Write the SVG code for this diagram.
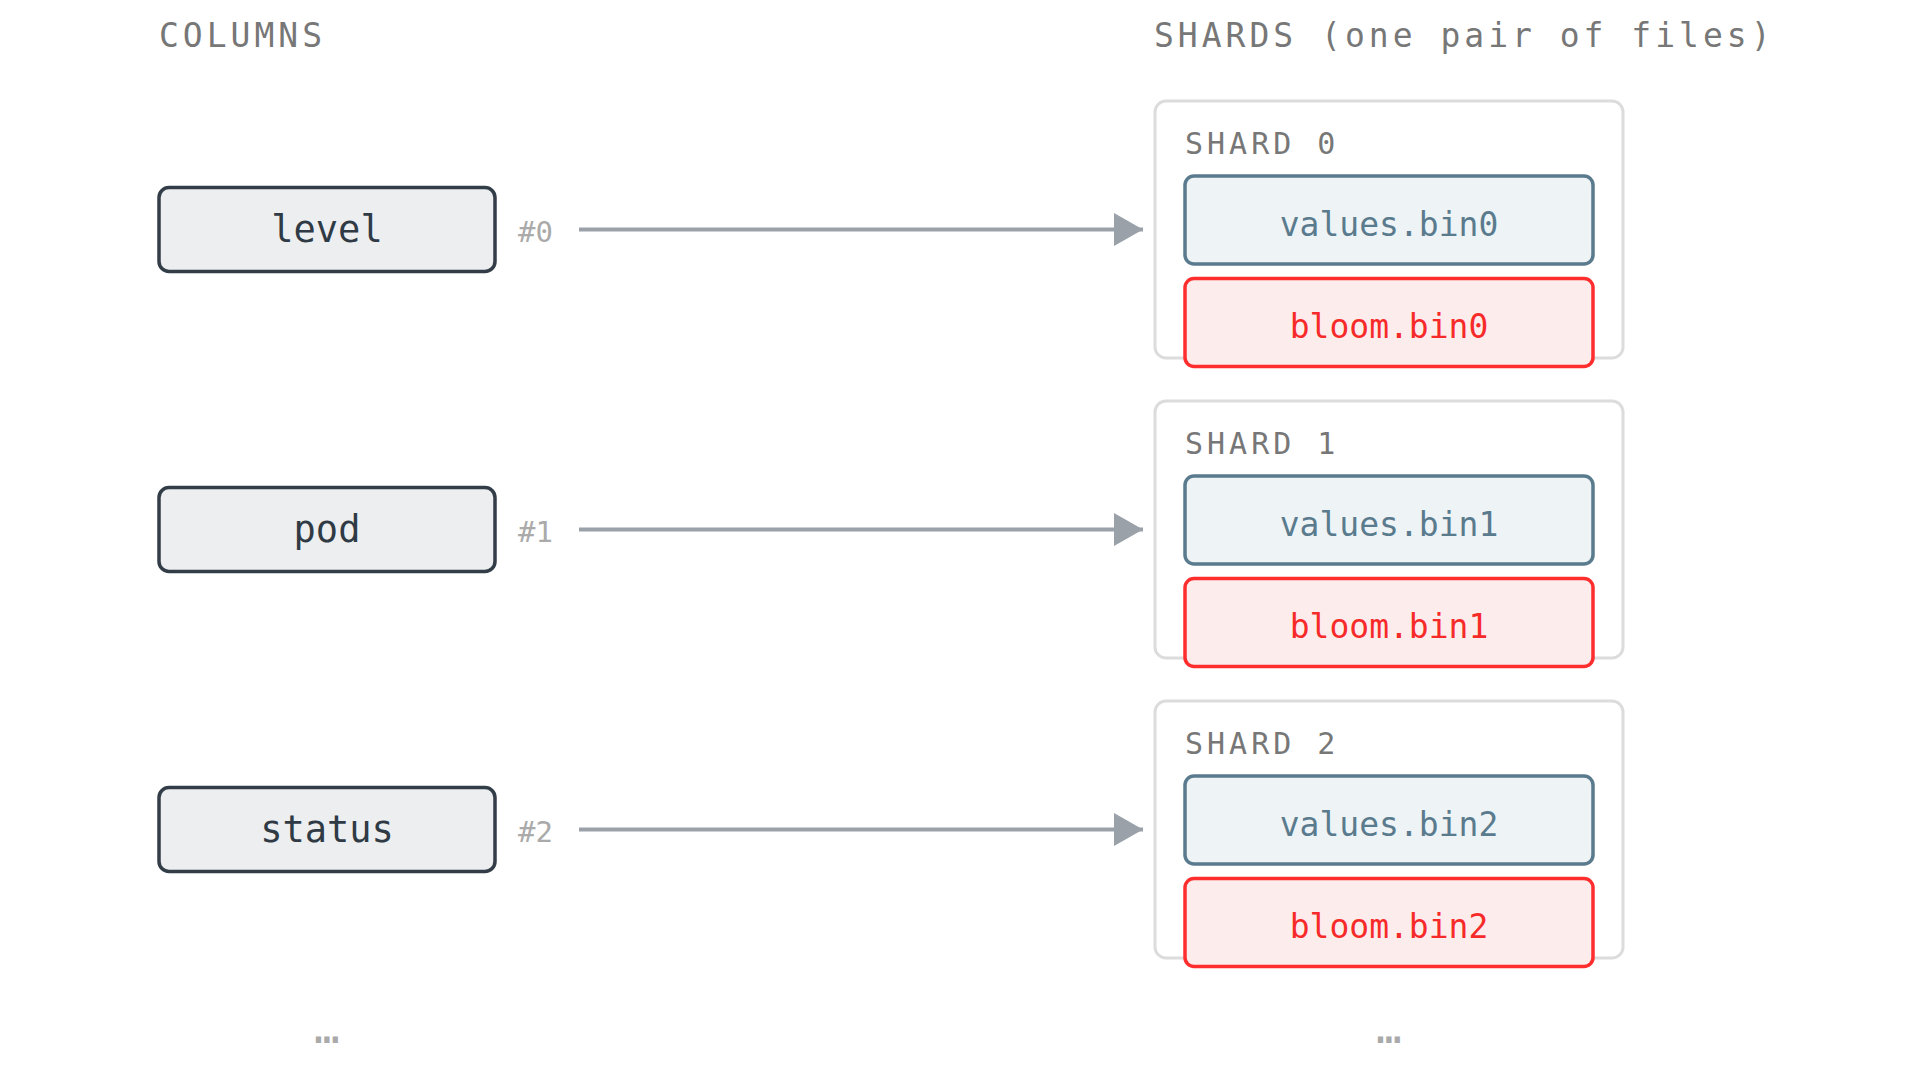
<svg xmlns="http://www.w3.org/2000/svg" width="1920" height="1080" viewBox="0 0 1920 1080">
<defs>
<style>
.mono{font-family:"DejaVu Sans Mono","Liberation Mono",monospace;}
.hdr{font-size:33px;fill:#777;letter-spacing:4px;}
.col rect{fill:#edeef0;stroke:#333d48;stroke-width:3.5;}
.col text{font-size:37px;fill:#2f3a45;text-anchor:middle;}
.idx{font-size:29px;fill:#aaa;}
.shard>rect{fill:#fff;stroke:#dcdcdc;stroke-width:3;}
.slabel{font-size:30px;fill:#777;letter-spacing:4px;}
.val rect{fill:#eef3f6;stroke:#5a7b8d;stroke-width:3.5;}
.val text{font-size:33px;fill:#5a7b8d;text-anchor:middle;}
.blm rect{fill:#fcedec;stroke:#ff2e2e;stroke-width:3.5;}
.blm text{font-size:33px;fill:#f72a2a;text-anchor:middle;}
.conn line{stroke:#9aa1a9;stroke-width:4;}
.dots{font-size:42px;fill:#aaa;text-anchor:middle;}
</style>
<marker id="arr" markerUnits="userSpaceOnUse" markerWidth="30" markerHeight="34" refX="29" refY="16.5" orient="auto">
<path d="M0,0 L29,16.5 L0,33 z" fill="#9aa1a9"/>
</marker>
</defs>
<rect width="1920" height="1080" fill="#fff"/>
<text class="mono hdr" x="159" y="47">COLUMNS</text>
<text class="mono hdr" x="1154" y="47">SHARDS (one pair of files)</text>

<g id="col-level" class="col"><rect x="159" y="187.5" width="336" height="84" rx="10"/><text class="mono" x="327" y="241.5">level</text></g>
<g id="col-pod" class="col"><rect x="159" y="487.5" width="336" height="84" rx="10"/><text class="mono" x="327" y="541.5">pod</text></g>
<g id="col-status" class="col"><rect x="159" y="787.5" width="336" height="84" rx="10"/><text class="mono" x="327" y="841.5">status</text></g>

<g id="idx0"><text class="mono idx" x="518" y="241.5">#0</text></g>
<g id="idx1"><text class="mono idx" x="518" y="541.5">#1</text></g>
<g id="idx2"><text class="mono idx" x="518" y="841.5">#2</text></g>

<g id="connectors" class="conn">
<line x1="579" y1="229.5" x2="1143" y2="229.5" marker-end="url(#arr)"/>
<line x1="579" y1="529.5" x2="1143" y2="529.5" marker-end="url(#arr)"/>
<line x1="579" y1="829.5" x2="1143" y2="829.5" marker-end="url(#arr)"/>
</g>

<g id="shard0" class="shard">
<rect x="1155" y="101" width="468" height="257" rx="11"/>
<text class="mono slabel" x="1185" y="154">SHARD 0</text>
<g id="values0" class="val"><rect x="1185" y="176" width="408" height="88" rx="9"/><text class="mono" x="1389" y="236">values.bin0</text></g>
<g id="bloom0" class="blm"><rect x="1185" y="278.5" width="408" height="88" rx="9"/><text class="mono" x="1389" y="338">bloom.bin0</text></g>
</g>
<g id="shard1" class="shard">
<rect x="1155" y="401" width="468" height="257" rx="11"/>
<text class="mono slabel" x="1185" y="454">SHARD 1</text>
<g id="values1" class="val"><rect x="1185" y="476" width="408" height="88" rx="9"/><text class="mono" x="1389" y="536">values.bin1</text></g>
<g id="bloom1" class="blm"><rect x="1185" y="578.5" width="408" height="88" rx="9"/><text class="mono" x="1389" y="638">bloom.bin1</text></g>
</g>
<g id="shard2" class="shard">
<rect x="1155" y="701" width="468" height="257" rx="11"/>
<text class="mono slabel" x="1185" y="754">SHARD 2</text>
<g id="values2" class="val"><rect x="1185" y="776" width="408" height="88" rx="9"/><text class="mono" x="1389" y="836">values.bin2</text></g>
<g id="bloom2" class="blm"><rect x="1185" y="878.5" width="408" height="88" rx="9"/><text class="mono" x="1389" y="938">bloom.bin2</text></g>
</g>

<text class="mono dots" x="327" y="1043">…</text>
<text class="mono dots" x="1389" y="1043">…</text>
</svg>
